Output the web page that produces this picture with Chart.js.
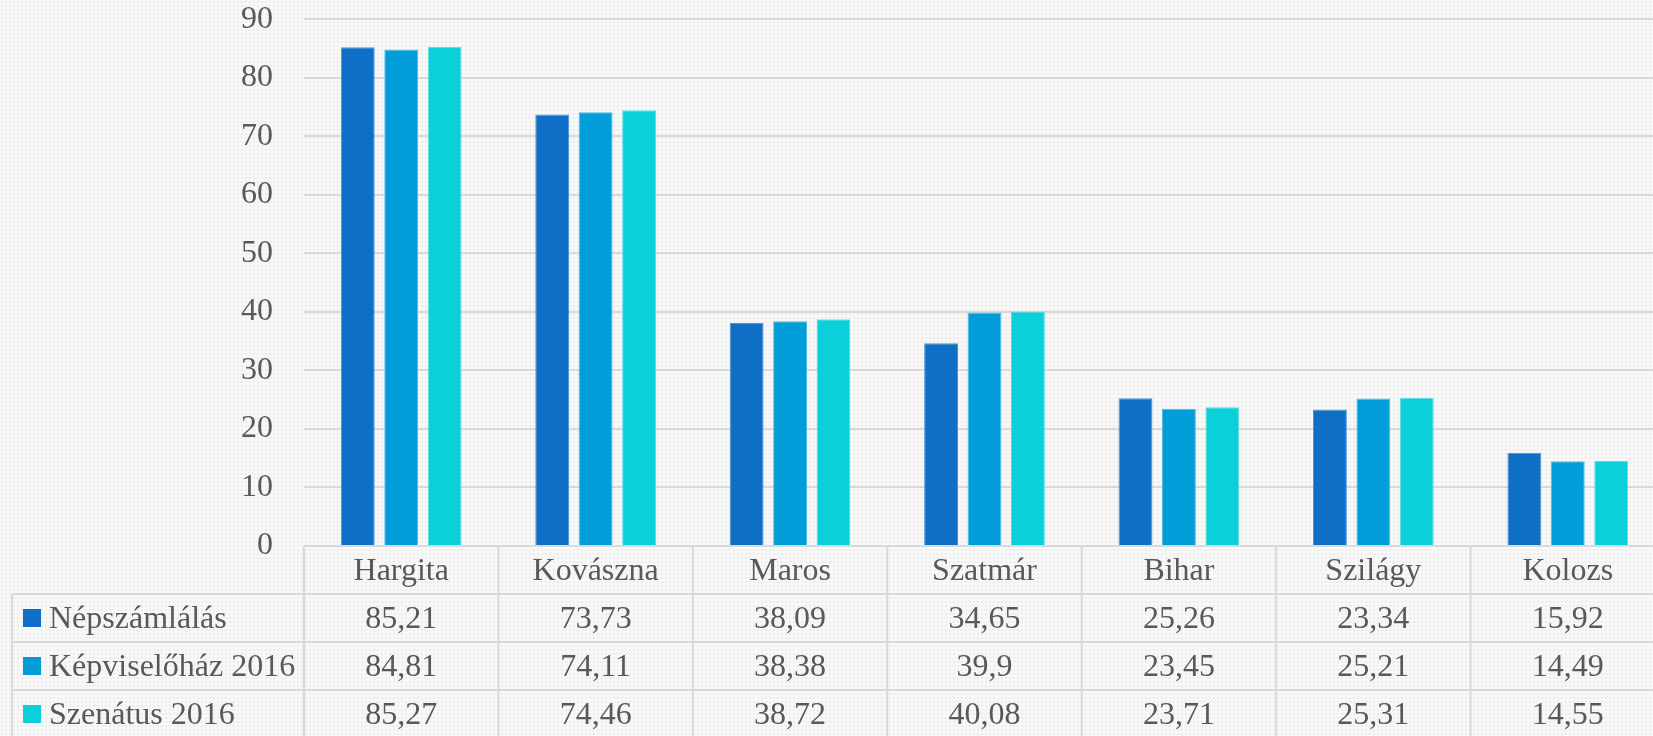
<!DOCTYPE html>
<html>
<head>
<meta charset="utf-8">
<script src="https://cdn.jsdelivr.net/npm/chart.js@4/dist/chart.umd.min.js"></script>
<style>
    html, body {
        margin: 0;
        padding: 0;
        width: 1653px;
        height: 736px;
        overflow: hidden;
        background-color: #f8f8f8;
        background-image: radial-gradient(#ececec 0.8px, transparent 1.2px);
        background-size: 4px 4px;
    }
    canvas { display: block; }
</style>
</head>
<body>
<canvas id="megyeChart" width="1666" height="736"></canvas>
<script>
// adatok
const categories = ['Hargita', 'Kovászna', 'Maros', 'Szatmár', 'Bihar', 'Szilágy', 'Kolozs'];
const seriesNames = ['Népszámlálás', 'Képviselőház 2016', 'Szenátus 2016'];
const nepszamlalas = [85.21, 73.73, 38.09, 34.65, 25.26, 23.34, 15.92];
const kepviselohaz = [84.81, 74.11, 38.38, 39.9, 23.45, 25.21, 14.49];
const szenatus = [85.27, 74.46, 38.72, 40.08, 23.71, 25.31, 14.55];
const colors = ['#0f6fc6', '#009dd9', '#0bd0d9'];
const edgeColors = ['#4c93d6', '#4cbbe5', '#5cdde3'];
const yTicks = [0, 10, 20, 30, 40, 50, 60, 70, 80, 90];

const textColor = '#595959';
const lineColor = '#d9d9d9';
const fontFamily = '"Liberation Serif", "Times New Roman", serif';

Chart.defaults.font.family = fontFamily;
Chart.defaults.color = textColor;

const fmt = v => String(v).replace('.', ',');

// adattábla a diagram alatt
const dataTable = {
    id: 'dataTable',
    afterDraw(chart) {
        const ctx = chart.ctx;
        const area = chart.chartArea;
        const xs = chart.scales.x;
        const colW = (area.right - area.left) / categories.length;
        const rowH = 48;
        const top = area.bottom;
        const tableLeft = 12;
        const rows = [nepszamlalas, kepviselohaz, szenatus];

        ctx.save();
        ctx.strokeStyle = lineColor;
        ctx.lineWidth = 2;
        ctx.beginPath();
        for (let r = 1; r <= 4; r++) {
            ctx.moveTo(tableLeft, top + r * rowH);
            ctx.lineTo(area.right, top + r * rowH);
        }
        for (let i = 0; i <= categories.length; i++) {
            const xx = area.left + i * colW;
            ctx.moveTo(xx, top);
            ctx.lineTo(xx, top + 4 * rowH);
        }
        ctx.moveTo(tableLeft, top + rowH);
        ctx.lineTo(tableLeft, top + 4 * rowH);
        ctx.stroke();

        ctx.fillStyle = textColor;
        ctx.font = '32px ' + fontFamily;
        ctx.textBaseline = 'middle';
        ctx.textAlign = 'center';
        categories.forEach((c, i) => {
            const cx = xs.getPixelForValue(i);
            ctx.fillText(c, cx, top + rowH / 2 + 2);
            rows.forEach((vals, r) => {
                ctx.fillText(fmt(vals[i]), cx, top + rowH * (r + 1.5) + 2);
            });
        });

        ctx.textAlign = 'left';
        seriesNames.forEach((name, r) => {
            const cy = top + rowH * (r + 1.5);
            ctx.fillStyle = colors[r];
            ctx.fillRect(23, cy - 9, 18, 18);
            ctx.fillStyle = textColor;
            ctx.fillText(name, 49, cy + 2);
        });
        ctx.restore();
    }
};

const chart = new Chart(document.getElementById('megyeChart').getContext('2d'), {
    type: 'bar',
    data: {
        labels: categories,
        datasets: [nepszamlalas, kepviselohaz, szenatus].map((d, i) => ({
            label: seriesNames[i],
            data: d,
            backgroundColor: colors[i],
            borderColor: edgeColors[i],
            borderWidth: 1,
            categoryPercentage: 0.67,
            barPercentage: 0.78
        }))
    },
    options: {
        responsive: false,
        devicePixelRatio: 1,
        animation: false,
        layout: { padding: { top: 17, bottom: 190, left: 0, right: 1 } },
        plugins: {
            legend: { display: false },
            tooltip: { enabled: false }
        },
        scales: {
            x: {
                display: false
            },
            y: {
                min: 0,
                max: 90,
                afterFit: s => { s.width = 304; },
                afterBuildTicks: s => { s.ticks = yTicks.map(v => ({ value: v })); },
                ticks: {
                    padding: 0,
                    color: textColor,
                    font: { size: 32 }
                },
                grid: {
                    color: lineColor,
                    lineWidth: 2,
                    drawTicks: true,
                    tickLength: 31,
                    tickColor: 'rgba(0,0,0,0)'
                },
                border: { display: false }
            }
        }
    },
    plugins: [dataTable]
});
</script>
</body>
</html>
